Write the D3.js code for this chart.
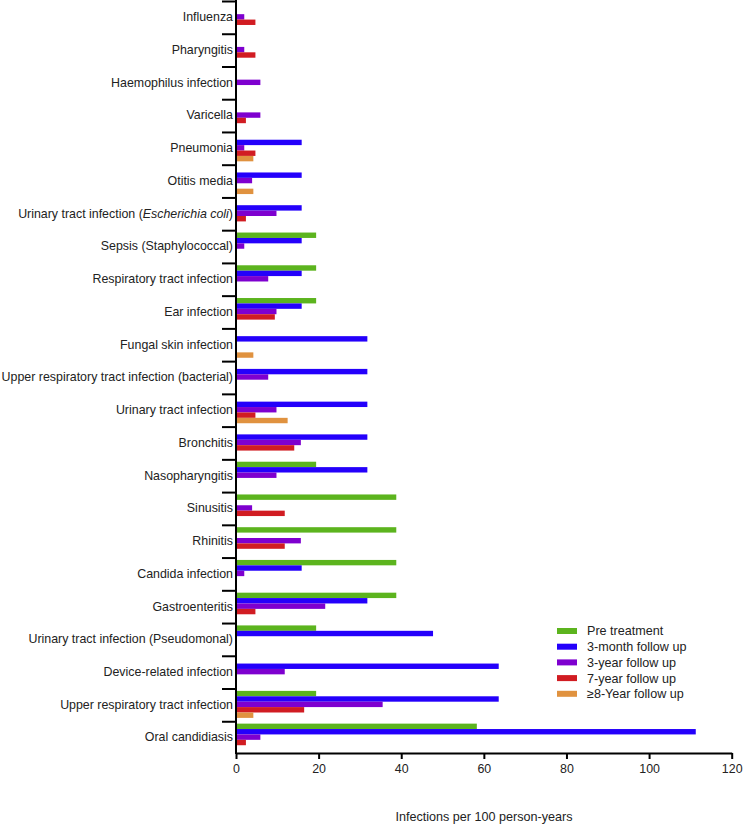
<!DOCTYPE html>
<html><head><meta charset="utf-8">
<script src="https://cdn.jsdelivr.net/npm/d3@7"></script>
<style>
html,body{margin:0;padding:0;background:#fff;}
text{font-family:"Liberation Sans",Arial,Helvetica,sans-serif;}
</style></head>
<body>
<svg id="chart" width="747" height="824"></svg>
<script>
const categories = ["Influenza","Pharyngitis","Haemophilus infection","Varicella","Pneumonia","Otitis media","Urinary tract infection (Escherichia coli)","Sepsis (Staphylococcal)","Respiratory tract infection","Ear infection","Fungal skin infection","Upper respiratory tract infection (bacterial)","Urinary tract infection","Bronchitis","Nasopharyngitis","Sinusitis","Rhinitis","Candida infection","Gastroenteritis","Urinary tract infection (Pseudomonal)","Device-related infection","Upper respiratory tract infection","Oral candidiasis"];
const seriesNames = ["Pre treatment","3-month follow up","3-year follow up","7-year follow up","\u22658-Year follow up"];
const seriesColors = ["#5cb41e","#2400fb","#7e00cf","#d11c22","#e0923f"];
const preTreatment = [0,0,0,0,0,0,0,19.4,19.4,19.4,0,0,0,0,19.4,38.8,38.8,38.8,38.8,19.4,0,19.4,58.3];
const month3 = [0,0,0,0,15.9,15.9,15.9,15.9,15.9,15.9,31.8,31.8,31.8,31.8,31.8,0,0,15.9,31.8,47.7,63.6,63.6,111.3];
const year3 = [2.0,2.0,5.9,5.9,2.0,3.9,9.8,2.0,7.8,9.8,0,7.8,9.8,15.7,9.8,3.9,15.7,2.0,21.6,0,11.8,35.5,5.9];
const year7 = [4.7,4.7,0,2.4,4.7,0,2.4,0,0,9.4,0,0,4.7,14.1,0,11.8,11.8,0,4.7,0,0,16.5,2.4];
const year8plus = [0,0,0,0,4.2,4.2,0,0,0,0,4.2,0,12.5,0,0,0,0,0,0,0,0,4.2,0];
const xTicks = [0,20,40,60,80,100,120];
const xTitle = "Infections per 100 person-years";

const seriesValues = [preTreatment, month3, year3, year7, year8plus];
const svg = d3.select("#chart");
const x = d3.scaleLinear().domain([0,120]).range([236,731.7]);
const y = d3.scaleBand().domain(categories).range([0.5,753.5]).paddingInner(0).paddingOuter(0);
const inner = d3.scaleBand().domain(d3.range(5)).range([0, 27]);
const off = (y.bandwidth()-27)/2;

const g = svg.append("g");
categories.forEach((c,i)=>{
  seriesValues.forEach((vals,s)=>{
    if(vals[i] > 0){
      g.append("rect")
        .attr("x", x(0))
        .attr("y", y(c)+off+inner(s))
        .attr("width", x(vals[i])-x(0))
        .attr("height", inner.bandwidth())
        .attr("fill", seriesColors[s]);
    }
  });
});

// Y axis
const yAxisG = svg.append("g");
yAxisG.append("line").attr("x1",236).attr("x2",236).attr("y1",0).attr("y2",754)
  .attr("stroke","#000").attr("stroke-width",2);
const bounds = categories.map(c=>y(c)).concat([y(categories[categories.length-1])+y.bandwidth()]);
bounds.forEach((b,i)=>{
  if(i===bounds.length-1) return;
  yAxisG.append("line").attr("x1",222).attr("x2",236).attr("y1",b+1).attr("y2",b+1)
    .attr("stroke","#000").attr("stroke-width",2);
});
categories.forEach(c=>{
  const t = yAxisG.append("text").attr("x",233).attr("y",y(c)+y.bandwidth()/2)
    .attr("dy","0.35em").attr("text-anchor","end").attr("font-size","12.4px").attr("fill","#222");
  const m = c.match(/^(.*\()(Escherichia coli)(\).*)$/);
  if(m){
    t.append("tspan").text(m[1]);
    t.append("tspan").attr("font-style","italic").text(m[2]);
    t.append("tspan").text(m[3]);
  } else t.text(c);
});

// X axis
const xAxis = d3.axisBottom(x).tickValues(xTicks).tickSize(6).tickSizeOuter(0).tickFormat(d3.format("d"));
const xg = svg.append("g").attr("transform","translate(0,753)").call(xAxis);
xg.select(".domain").attr("stroke","#000").attr("stroke-width",2);
xg.selectAll(".tick line").attr("stroke","#000").attr("stroke-width",2);
xg.selectAll(".tick text").attr("font-size","12.4px").attr("fill","#222").attr("dy","0.9em")
  .attr("font-family","Liberation Sans, Arial, sans-serif");
svg.append("text").attr("x",484).attr("y",821).attr("text-anchor","middle")
  .attr("font-size","12.6px").attr("fill","#222").text(xTitle);

// Legend
const lg = svg.append("g");
seriesNames.forEach((n,i)=>{
  const cy = 631 + i*15.7;
  lg.append("rect").attr("x",557).attr("y",cy-3).attr("width",20).attr("height",6).attr("fill",seriesColors[i]);
  lg.append("text").attr("x",587).attr("y",cy).attr("dy","0.35em").attr("font-size","12.6px").attr("fill","#222").text(n);
});
</script>
</body></html>
